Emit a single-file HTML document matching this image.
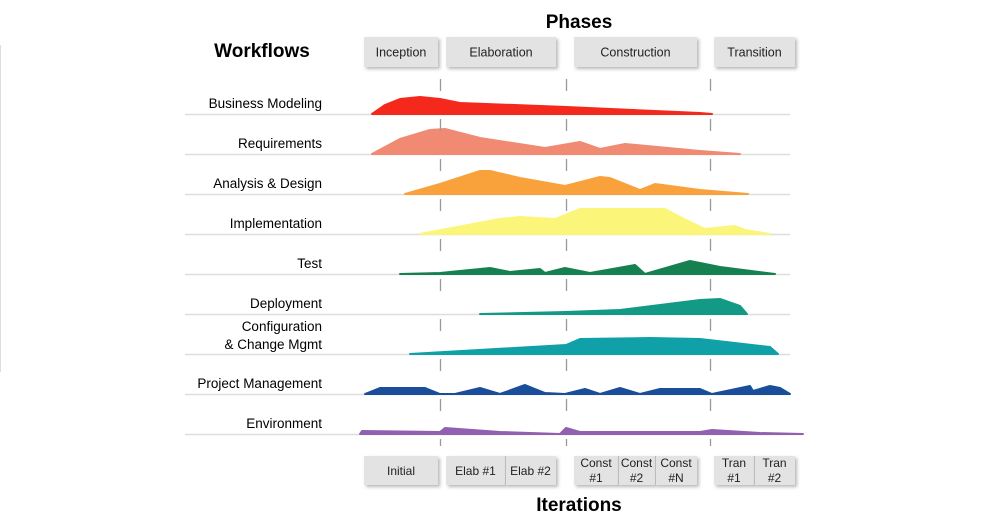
<!DOCTYPE html>
<html><head><meta charset="utf-8"><style>
html,body{margin:0;padding:0;background:#fff;}
svg{display:block;font-family:"Liberation Sans",Arial,sans-serif;}
</style></head><body>
<svg id="chart" width="988" height="524" viewBox="0 0 988 524">
<defs><filter id="sh" x="-10%" y="-20%" width="130%" height="160%"><feDropShadow dx="2" dy="2" stdDeviation="1.5" flood-color="#888" flood-opacity="0.6"/></filter></defs>
<line x1="0.5" y1="45" x2="0.5" y2="372" stroke="#ddd"/>
<text x="579" y="28" font-size="19" font-weight="bold" text-anchor="middle">Phases</text>
<text x="262" y="57" font-size="19" font-weight="bold" text-anchor="middle">Workflows</text>
<text x="579" y="511" font-size="19" font-weight="bold" text-anchor="middle">Iterations</text>
<g id="boxes"></g>
<g id="rows"></g>
<g id="dashes"></g>
</svg>
<script>
const workflows = ["Business Modeling","Requirements","Analysis & Design","Implementation","Test","Deployment","Configuration|& Change Mgmt","Project Management","Environment"];
const colors = ["#f5281c","#f08a72","#f9a23c","#fbf57a","#178050","#129a87","#10a0a8","#1a4e9a","#9160b0"];
const baselines = [114,154,194,234,274,314,354,394,434];
const seriesT = [
 [12,25,40,60,80,100,206,340,352],
 [12,40,70,85,120,185,220,240,265,340,380],
 [45,80,120,130,160,205,240,250,280,295,340,388],
 [60,140,160,195,220,305,320,345,375,385,410],
 [40,80,130,150,180,185,205,230,275,285,330,360,415],
 [120,206,260,340,360,380,387],
 [50,206,220,290,340,410,418],
 [5,20,65,80,95,120,140,165,185,205,225,240,260,280,300,340,352,390,393,410,420,430],
 [0,2,80,85,140,200,206,220,340,352,400,443]
];
const seriesH = [
 [0,9,15,17,15,11,7,1,0],
 [0,15,24,25,16,6,12,5,10,3,0],
 [0,10,23,23,16,8,17,16,4,10,4,0],
 [0,15,17,15,25,25,17,5,8,4,0],
 [0,1,6,2,5,1,6,1,9,0,13,7,0],
 [0,2,4,14,15,8,0],
 [0,9,15,16,15,7,0],
 [0,6,6,0,0,6,0,9,1,0,5,0,6,0,5,5,0,8,3,8,6,0],
 [0,3,2,6,2,0,6,2,2,4,1,0]
];
const phaseNames = ["Inception","Elaboration","Construction","Transition"];
const phaseStart = [4,86,214,354];
const phaseEnd = [78,196,337,435];
const iterNames = ["Initial","Elab #1","Elab #2","Const|#1","Const|#2","Const|#N","Tran|#1","Tran|#2"];
const iterStart = [4,86,145,214,258,295,354,394];
const iterEnd = [78,145,196,258,295,337,394,435];
const boundaries = [80,206,350];
const xs = t => 360 + t;
const ys = (b,h) => b - h;
const NS = "http://www.w3.org/2000/svg";
const mk = (tag, parent) => { const e = document.createElementNS(NS, tag); parent.appendChild(e); return e; };
const rows = document.getElementById("rows");
workflows.forEach((name, i) => {
  const g = mk("g", rows);
  
  
  const b = baselines[i];
  const base = mk("line", g);
  
  
  base.setAttribute("x1", 185); base.setAttribute("x2", i === 8 ? 803 : 790);
  base.setAttribute("y1", b + 0.5); base.setAttribute("y2", b + 0.5);
  base.setAttribute("stroke", "#ddd"); base.setAttribute("stroke-width", "1.5");
  const T = seriesT[i], H = seriesH[i];
  let d = "M" + xs(T[0]) + "," + b;
  T.forEach((t, k) => { d += " L" + xs(t) + "," + ys(b, H[k]); });
  d += " L" + xs(T[T.length - 1]) + "," + b + " Z";
  const p = mk("path", g);
  
  
  p.setAttribute("d", d); p.setAttribute("fill", colors[i]); p.setAttribute("stroke", colors[i]);
  p.setAttribute("stroke-linejoin", "round"); p.setAttribute("stroke-width", "2");
  const lines = name.split("|");
  lines.forEach((ln, k) => {
    const tx = mk("text", g);
    
    
    tx.setAttribute("x", 322); tx.setAttribute("text-anchor", "end"); tx.setAttribute("font-size", "13.5");
    tx.setAttribute("y", lines.length === 1 ? b - 6 : b - 23 + k * 18);
    tx.textContent = ln;
  });
});
const boxes = document.getElementById("boxes");
function box(x1, x2, y, h, name, label, fs) {
  const r = mk("rect", boxes);
  
  
  r.setAttribute("x", xs(x1)); r.setAttribute("y", y); r.setAttribute("width", x2 - x1); r.setAttribute("height", h);
  r.setAttribute("fill", "#e3e3e3"); r.setAttribute("filter", "url(#sh)");
  const ls = label.split("|");
  ls.forEach((ln, k) => {
    const t = mk("text", boxes);
    
    
    t.setAttribute("x", xs((x1 + x2) / 2)); t.setAttribute("text-anchor", "middle"); t.setAttribute("font-size", fs);
    t.setAttribute("y", ls.length === 1 ? y + h / 2 + 4.5 : y + 11 + k * 15);
    t.setAttribute("fill", "#222");
    t.textContent = ln;
  });
}
phaseNames.forEach((n, i) => box(phaseStart[i], phaseEnd[i], 37, 30, 'phase-box', n, 12.5));
iterNames.forEach((n, i) => {
  box(iterStart[i], iterEnd[i], 456, 29, 'iteration-box', n, 12);
});
iterStart.forEach((s, i) => {
  if (i > 0 && iterEnd[i - 1] === s) {
    const l = mk("line", boxes);
    
    
    l.setAttribute("x1", xs(s) + 0.5); l.setAttribute("x2", xs(s) + 0.5); l.setAttribute("y1", 456); l.setAttribute("y2", 485);
    l.setAttribute("stroke", "#bbb");
  }
});
const dashes = document.getElementById("dashes");
boundaries.forEach(bx => {
  const l = mk("line", dashes);
  
  
  l.setAttribute("x1", xs(bx) + 0.5); l.setAttribute("x2", xs(bx) + 0.5); l.setAttribute("y1", 79); l.setAttribute("y2", 446);
  l.setAttribute("stroke", "#999"); l.setAttribute("stroke-width", "1.3"); l.setAttribute("stroke-dasharray", "12 28");
});
</script>
</body></html>
